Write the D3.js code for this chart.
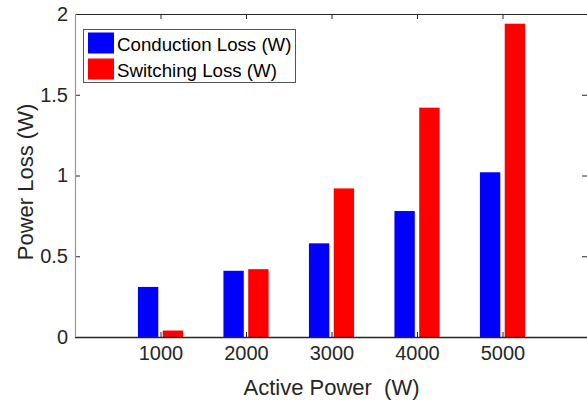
<!DOCTYPE html>
<html>
<head>
<meta charset="utf-8">
<script src="https://cdn.jsdelivr.net/npm/d3@7"></script>
<style>
  html, body { margin: 0; padding: 0; background: #fff; }
  svg { display: block; font-family: "Liberation Sans", Arial, Helvetica, sans-serif; }
</style>
</head>
<body>
<svg id="chart" width="587" height="400"></svg>
<script>
// Loss breakdown per active power level
const activePower = [1000, 2000, 3000, 4000, 5000];
const conductionLoss = [0.31, 0.41, 0.58, 0.78, 1.02];
const switchingLoss = [0.04, 0.42, 0.92, 1.42, 1.94];
const seriesNames = ["Conduction Loss (W)", "Switching Loss (W)"];
const seriesColors = ["#0000ff", "#ff0000"];
const xTicks = [1000, 2000, 3000, 4000, 5000];
const yTicks = [0, 0.5, 1, 1.5, 2];

const svg = d3.select("#chart");
const ink = "#262626";

// the right edge of the box sits just past the drawing surface
const plotL = 75, plotR = 588, plotT = 14, plotB = 337;
const x = d3.scaleLinear().domain([0, 6000]).range([plotL, plotR]);
const y = d3.scaleLinear().domain([0, 2]).range([plotB, plotT]);

// grouped bar geometry in data units
const barWidth = 238;
const offset = 145;

const series = [conductionLoss, switchingLoss];
series.forEach((vals, si) => {
  const shift = si === 0 ? -offset : offset;
  svg.append("g").selectAll("rect")
    .data(activePower.map((p, i) => ({ p, v: vals[i] })))
    .join("rect")
    .attr("x", d => x(d.p + shift - barWidth / 2))
    .attr("width", d => x(d.p + shift + barWidth / 2) - x(d.p + shift - barWidth / 2))
    .attr("y", d => y(d.v))
    .attr("height", d => y(0) - y(d.v))
    .attr("fill", seriesColors[si]);
});

// axes box
const tickLen = 5;
const gx = svg.append("g").attr("transform", `translate(0,${plotB})`)
  .call(d3.axisBottom(x).tickValues(xTicks).tickSize(-tickLen).tickPadding(9).tickFormat(d3.format("d")));
gx.select(".domain").remove();
gx.selectAll("line").attr("stroke", ink);
gx.selectAll("text").attr("fill", ink).attr("font-size", 20).style("font-family", "Liberation Sans, Arial, sans-serif");

const gxTop = svg.append("g").attr("transform", `translate(0,${plotT})`)
  .call(d3.axisTop(x).tickValues(xTicks).tickSize(-tickLen).tickFormat(""));
gxTop.select(".domain").remove();
gxTop.selectAll("line").attr("stroke", ink);

const gy = svg.append("g").attr("transform", `translate(${plotL},0)`)
  .call(d3.axisLeft(y).tickValues(yTicks).tickSize(-tickLen).tickPadding(7).tickFormat(d3.format("~g")));
gy.select(".domain").remove();
gy.selectAll("line").attr("stroke", ink);
gy.selectAll("text").attr("fill", ink).attr("font-size", 20).style("font-family", "Liberation Sans, Arial, sans-serif");

const gyRight = svg.append("g").attr("transform", `translate(${plotR - 1},0)`)
  .call(d3.axisRight(y).tickValues(yTicks).tickSize(-tickLen).tickFormat(""));
gyRight.select(".domain").remove();
gyRight.selectAll("line").attr("stroke", ink);

svg.append("line").attr("x1", plotL).attr("x2", plotR).attr("y1", plotB + 0.5).attr("y2", plotB + 0.5)
  .attr("stroke", ink).attr("stroke-width", 1.5);
svg.append("line").attr("x1", plotL).attr("x2", plotR).attr("y1", plotT + 0.5).attr("y2", plotT + 0.5)
  .attr("stroke", ink).attr("stroke-width", 1.2);
svg.append("line").attr("x1", plotL + 0.5).attr("x2", plotL + 0.5).attr("y1", plotT).attr("y2", plotB)
  .attr("stroke", "#9a9a9a").attr("stroke-width", 1.2);

// axis labels
svg.append("text")
  .attr("x", (plotL + plotR) / 2).attr("y", 395)
  .attr("text-anchor", "middle").attr("font-size", 22).attr("fill", ink)
  .style("white-space", "pre")
  .text("Active Power  (W)");

svg.append("text")
  .attr("transform", `translate(33,182) rotate(-90)`)
  .attr("text-anchor", "middle").attr("font-size", 22).attr("fill", ink)
  .text("Power Loss (W)");

// legend
const lg = svg.append("g");
lg.append("rect").attr("x", 83.5).attr("y", 29.5).attr("width", 212).attr("height", 53)
  .attr("fill", "#fff").attr("stroke", "#555").attr("stroke-width", 1);
seriesNames.forEach((name, i) => {
  const rowY = 32.5 + i * 26;
  lg.append("rect").attr("x", 88).attr("y", rowY).attr("width", 26).attr("height", 21)
    .attr("fill", seriesColors[i]);
  lg.append("text").attr("x", 117).attr("y", rowY + 18.3)
    .attr("font-size", 18.7).attr("fill", "#000").text(name);
});
</script>
</body>
</html>
